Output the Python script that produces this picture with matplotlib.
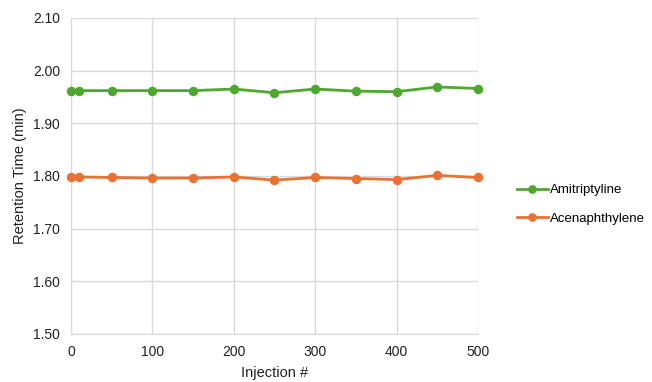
import matplotlib.pyplot as plt

injections = [0, 10, 50, 100, 150, 200, 250, 300, 350, 400, 450, 500]
amitriptyline = [1.962, 1.962, 1.962, 1.962, 1.962, 1.965, 1.958, 1.965, 1.961, 1.960, 1.969, 1.966]
acenaphthylene = [1.798, 1.798, 1.797, 1.796, 1.796, 1.798, 1.792, 1.797, 1.795, 1.793, 1.801, 1.797]

plt.rcParams['font.family'] = ['Liberation Sans', 'DejaVu Sans']

fig = plt.figure(figsize=(6.52, 3.82), dpi=100)
ax = fig.add_axes([0.109, 0.126, 0.624, 0.827])

ax.plot(injections, amitriptyline, marker='o', color='#4EA72E', lw=2, ms=5.8, label='Amitriptyline', clip_on=False, zorder=3)
ax.plot(injections, acenaphthylene, marker='o', color='#E97132', lw=2, ms=5.8, label='Acenaphthylene', clip_on=False, zorder=3)

ax.set_xlim(0, 500)
ax.set_ylim(1.50, 2.10)
ax.set_xticks(range(0, 501, 100))
ax.set_yticks([1.5, 1.6, 1.7, 1.8, 1.9, 2.0, 2.1])
ax.set_yticklabels([f'{v:.2f}' for v in [1.5, 1.6, 1.7, 1.8, 1.9, 2.0, 2.1]])
ax.grid(True, color='#d9d9d9', lw=1)
ax.set_axisbelow(True)
for s in ['top', 'right']:
    ax.spines[s].set_visible(False)
for s in ['left', 'bottom']:
    ax.spines[s].set_color('#d9d9d9')
ax.tick_params(length=0, labelsize=10, colors='#222222', pad=8)
ax.set_xlabel('Injection #', fontsize=10.5, color='#222222', labelpad=5)
ax.set_ylabel('Retention Time (min)', fontsize=10.5, color='#222222')

fig.legend(loc='center left', bbox_to_anchor=(0.775, 0.465), frameon=False, fontsize=9.5,
           handlelength=2.3, labelspacing=1.2, handletextpad=0.2, markerscale=0.9)

fig.savefig('out.png', dpi=100)
